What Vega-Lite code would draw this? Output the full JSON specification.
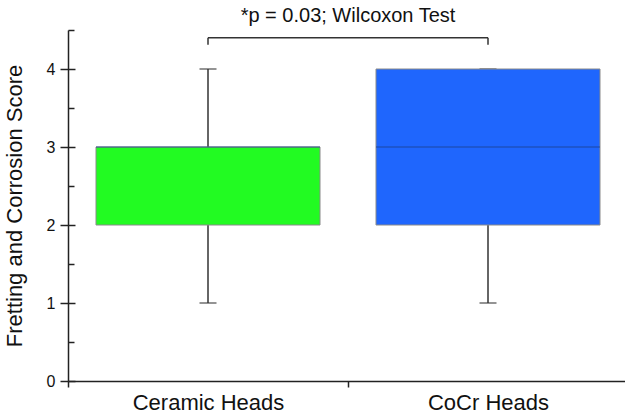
{
  "$schema": "https://vega.github.io/schema/vega-lite/v6.json",
  "autosize": {"type": "none"},
  "width": 560,
  "height": 351,
  "padding": {"left": 68, "top": 30, "right": 0, "bottom": 37},
  "background": "white",
  "config": {
    "view": {"stroke": null},
    "font": "Liberation Sans"
  },
  "title": {
    "text": "*p = 0.03; Wilcoxon Test",
    "font": "Liberation Sans",
    "fontSize": 20,
    "fontWeight": "normal",
    "color": "#111",
    "anchor": "middle",
    "offset": 3
  },
  "datasets": {
    "boxes": [
      {"group": "Ceramic Heads", "min": 1, "q1": 2, "median": 3, "q3": 3, "max": 4},
      {"group": "CoCr Heads", "min": 1, "q1": 2, "median": 3, "q3": 4, "max": 4}
    ],
    "bracket": [
      {"group": "Ceramic Heads", "group2": "CoCr Heads", "top": 4.4, "bottom": 4.31}
    ],
    "bracketEnds": [
      {"group": "Ceramic Heads", "top": 4.4, "bottom": 4.31},
      {"group": "CoCr Heads", "top": 4.4, "bottom": 4.31}
    ]
  },
  "resolve": {"axis": {"y": "independent"}},
  "layer": [
    {
      "data": {"name": "boxes"},
      "layer": [
        {
          "mark": {"type": "rule", "color": "#333", "strokeWidth": 1.5},
          "encoding": {
            "x": {
              "field": "group", "type": "nominal",
              "scale": {"paddingInner": 0, "paddingOuter": 0},
              "sort": ["Ceramic Heads", "CoCr Heads"],
              "axis": {
                "title": null, "labelAngle": 0, "tickBand": "extent",
                "labelFont": "Liberation Sans", "labelFontSize": 22, "labelColor": "#111",
                "labelPadding": 5, "domainColor": "#222", "domainWidth": 1.5,
                "tickColor": "#222", "tickWidth": 1.5, "tickSize": 6
              }
            },
            "y": {
              "field": "min", "type": "quantitative",
              "scale": {"domain": [0, 4.5], "nice": false, "zero": false},
              "axis": {
                "title": "Fretting and Corrosion Score",
                "titleFont": "Liberation Sans", "titleFontSize": 22, "titleFontWeight": "normal",
                "titleColor": "#111", "titlePadding": 20,
                "values": [0, 0.5, 1, 1.5, 2, 2.5, 3, 3.5, 4, 4.5],
                "labelExpr": "datum.value % 1 === 0 ? format(datum.value, 'd') : ''",
                "labelFont": "Liberation Sans", "labelFontSize": 16, "labelColor": "#111",
                "labelPadding": 5,
                "grid": false, "domainColor": "#222", "domainWidth": 1.5,
                "tickColor": "#222", "tickWidth": 1.5,
                "tickSize": {"condition": {"test": "datum.value % 1 === 0", "value": 8}, "value": 6}
              }
            },
            "y2": {"field": "max"}
          }
        },
        {
          "mark": {"type": "tick", "color": "#333", "thickness": 1.5, "size": 17},
          "encoding": {
            "x": {"field": "group", "type": "nominal"},
            "y": {"field": "min", "type": "quantitative"}
          }
        },
        {
          "mark": {"type": "tick", "color": "#333", "thickness": 1.5, "size": 17},
          "encoding": {
            "x": {"field": "group", "type": "nominal"},
            "y": {"field": "max", "type": "quantitative"}
          }
        },
        {
          "mark": {"type": "bar", "width": {"band": 0.8}, "stroke": "#8a8a8a", "strokeWidth": 1},
          "encoding": {
            "x": {"field": "group", "type": "nominal"},
            "y": {"field": "q1", "type": "quantitative"},
            "y2": {"field": "q3"},
            "color": {
              "field": "group", "type": "nominal",
              "scale": {"domain": ["Ceramic Heads", "CoCr Heads"], "range": ["#22fb22", "#1f66fd"]},
              "legend": null
            }
          }
        },
        {
          "mark": {"type": "tick", "color": "#1d3f8a", "opacity": 0.8, "thickness": 1.2, "size": 224},
          "encoding": {
            "x": {"field": "group", "type": "nominal"},
            "y": {"field": "median", "type": "quantitative"}
          }
        }
      ]
    },
    {
      "data": {"name": "bracket"},
      "mark": {"type": "rule", "color": "#333", "strokeWidth": 1.5, "clip": false},
      "encoding": {
        "x": {"field": "group", "type": "nominal"},
        "x2": {"field": "group2"},
        "y": {
          "field": "top", "type": "quantitative",
          "axis": {
            "title": null, "labels": false, "domain": false, "orient": "left",
            "values": [0, 0.5, 1, 1.5, 2, 2.5, 3, 3.5, 4, 4.5],
            "tickColor": "#222", "tickWidth": 1.5,
            "tickSize": {"condition": {"test": "datum.value % 1 === 0", "value": -7}, "value": -6},
            "grid": false
          }
        }
      }
    },
    {
      "data": {"name": "bracketEnds"},
      "mark": {"type": "rule", "color": "#333", "strokeWidth": 1.5, "clip": false},
      "encoding": {
        "x": {"field": "group", "type": "nominal"},
        "y": {"field": "bottom", "type": "quantitative", "axis": null},
        "y2": {"field": "top"}
      }
    }
  ]
}
